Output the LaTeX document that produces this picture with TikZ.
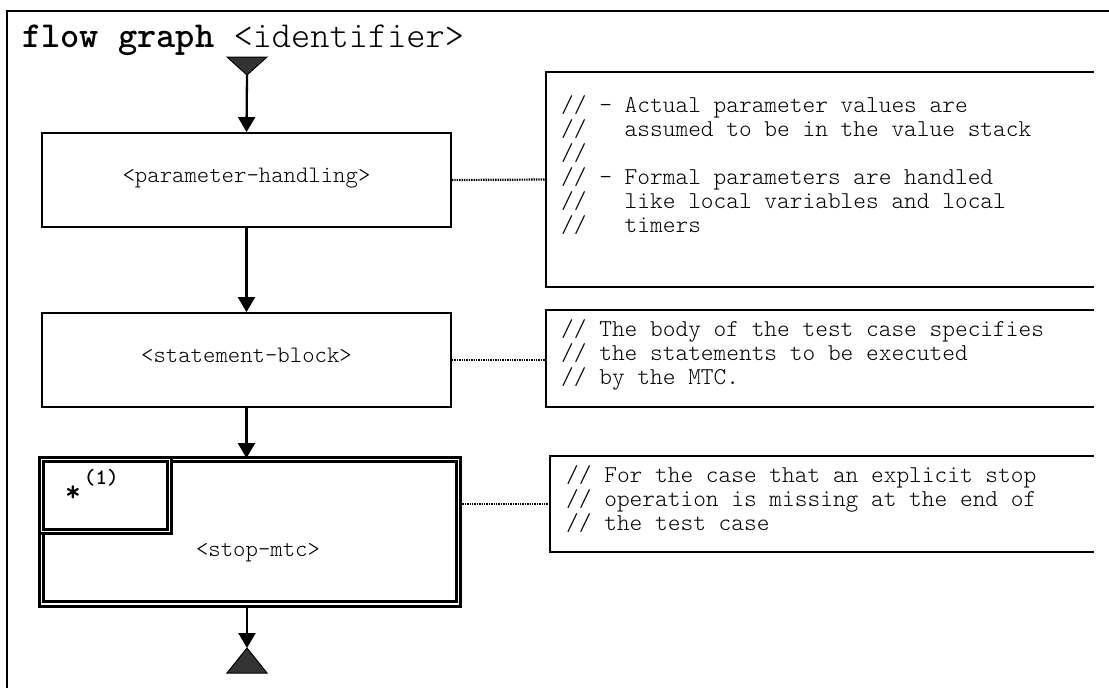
\documentclass[tikz,border=0pt]{standalone}
\usepackage{fontspec}
\setmonofont{lmmonolt10-regular.otf}[BoldFont=lmmonolt10-bold.otf]
\usetikzlibrary{arrows.meta}

\begin{document}
\begin{tikzpicture}[x=1pt,y=-1pt,
		block/.style={draw,line width=1.8pt,inner sep=0pt,font=\ttfamily\fontsize{23.6}{26}\selectfont,text height=0.7em,text depth=0.2em},
		dblock/.style={draw,double,double distance=1.5pt,line width=2.8pt,inner sep=0pt},
		noteframe/.style={inner sep=0pt,outer sep=0pt},
		notetext/.style={anchor=north west,inner sep=0pt,align=left,font=\ttfamily\fontsize{24.2}{24}\selectfont},
		flow/.style={line width=2.3pt,-{Triangle[length=15pt,width=17pt]}},
		link/.style={line width=2.2pt,dash pattern=on 1.4pt off 1pt}]
		\definecolor{tridark}{HTML}{333333}
		\useasboundingbox (0,0) rectangle (1109,688);
		% Rahmen
		\draw[line width=1.8pt] (7,688) -- (7,11) -- (1109,11);
		\node[anchor=base west,inner sep=0pt,font=\ttfamily\fontsize{36.6}{40}\selectfont] (title) at (22,47) {\textbf{flow graph} <identifier>};
		% Start
		\coordinate (start) at (247,75);
		\draw[line width=1pt,fill=tridark] (227,57) -- (267,57) -- (start) -- cycle;
		% Bloecke
		\node[block,minimum width=409pt,minimum height=94pt] (box1) at (246.5,180) {<parameter-handling>};
		\node[block,minimum width=409pt,minimum height=94pt] (box2) at (246.5,360) {<statement-block>};
		\node[dblock,minimum width=417pt,minimum height=144.5pt] (box3) at (250,531.75) {};
		\node[dblock,anchor=north west,minimum width=128pt,minimum height=72pt] (mark) at (box3.north west) {};
		\node[anchor=base west,inner sep=0pt,font=\ttfamily\bfseries\fontsize{22}{22}\selectfont] (marktxt) at (65,489) {{\fontsize{30}{30}\selectfont\raisebox{-0.42em}{*}}\hspace{3pt}\raisebox{5pt}{(1)}};
		\node[inner sep=0pt,font=\ttfamily\fontsize{23.6}{26}\selectfont] (stoptxt) at (258,553) {<stop-mtc>};
		% Verbindungen
		\draw[flow] (start) -- (box1.north);
		\draw[flow] (box1.south) -- (box2.north);
		\draw[flow] (box2.south) -- (box2.south |- box3.north);
		% Ende
		\coordinate (stop) at (247,648);
		\draw[flow] (stop |- box3.south) -- (stop);
		\draw[line width=1pt,fill=tridark] (stop) -- (267,673) -- (227,673) -- cycle;
		% Kommentare
		\node[noteframe,minimum width=548pt,minimum height=215pt] (note1) at (820,179.5) {};
		\node[noteframe,minimum width=548pt,minimum height=97pt] (note2) at (820,358.5) {};
		\node[noteframe,minimum width=544pt,minimum height=96pt] (note3) at (822,504) {};
		\foreach \n in {note1,note2,note3}
			\draw[line width=1.6pt] (\n.north east) -- (\n.north west) -- (\n.south west) -- (\n.south east);
		\node[notetext] (note1txt) at (561,95) {// - Actual parameter values are\\//~~~assumed to be in the value stack\\//\\// - Formal parameters are handled\\//~~~like local variables and local\\//~~~timers};
		\node[notetext] (note2txt) at (561,319) {// The body of the test case specifies\\// the statements to be executed\\// by the MTC.};
		\node[notetext] (note3txt) at (566,465) {// For the case that an explicit stop\\// operation is missing at the end of\\// the test case};
		\draw[link] (box1.east) -- (note1.west);
		\draw[link] (box2.east) -- (box2.east -| note2.west);
		\draw[link] (note3.west -| box3.east) -- (note3.west);
\end{tikzpicture}
\end{document}
